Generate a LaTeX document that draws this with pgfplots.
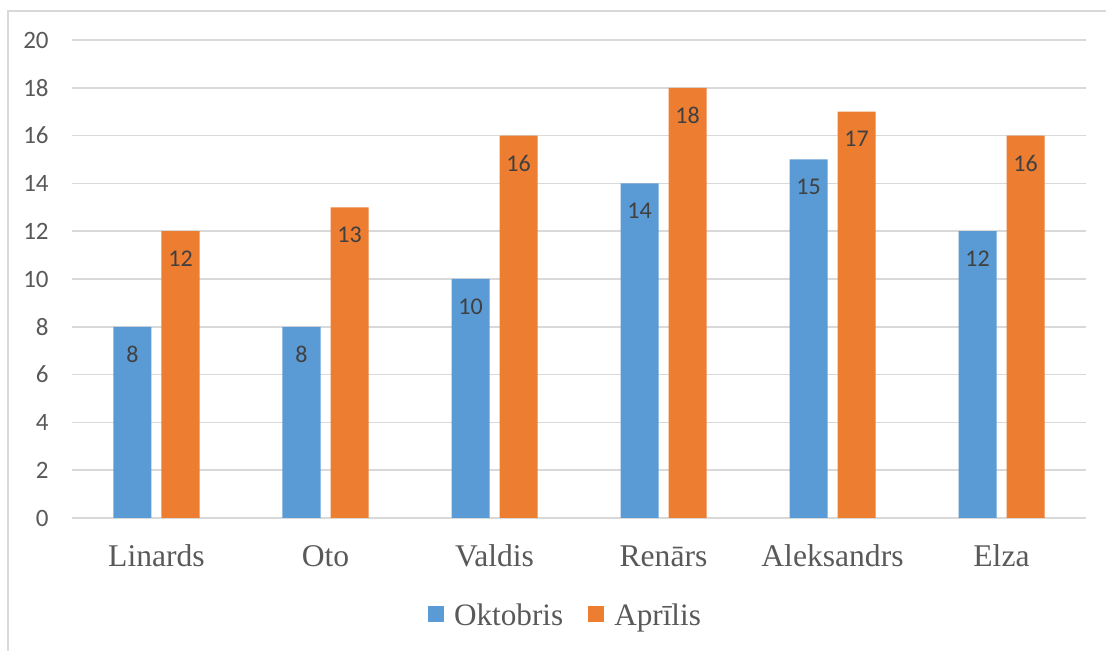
\documentclass[border=0pt]{standalone}
\usepackage{pgfplots}
\pgfplotsset{compat=1.18}
\usepackage{fontspec}
\setmainfont{Liberation Serif}
\newfontfamily\calibri{Carlito}
\definecolor{oblue}{HTML}{5B9BD5}
\definecolor{oorange}{HTML}{ED7D31}
\definecolor{txtgray}{HTML}{595959}
\definecolor{lblgray}{HTML}{404040}
\definecolor{gridgray}{HTML}{D9D9D9}
\begin{document}
\begin{tikzpicture}
\useasboundingbox (-36pt,-66.5pt) rectangle (517pt,259pt);
\draw[gridgray, line width=0.6pt] (-32pt,-70pt) -- (-32pt,253.5pt) -- (520pt,253.5pt);
\begin{axis}[
  at={(0pt,0pt)}, anchor=south west,
  scale only axis, width=507pt, height=239pt,
  xmin=-0.5, xmax=5.5, ymin=0, ymax=20,
  ybar, bar width=19pt,
  xtick={0,1,2,3,4,5},
  xticklabels={Linards,Oto,Valdis,Renārs,Aleksandrs,Elza},
  ytick={0,2,...,20},
  major tick length=0pt,
  axis line style={draw=none},
  ymajorgrids, grid style={gridgray, line width=0.75pt},
  /pgf/number format/assume math mode=true,
  yticklabel style={font=\calibri\fontsize{12.5}{14}\selectfont, text=txtgray, anchor=east, inner sep=0pt, xshift=-11.5pt},
  xticklabel style={font=\fontsize{15.8}{18}\selectfont, text=txtgray, anchor=base, inner sep=0pt, yshift=-24.5pt},
  nodes near coords,
  every node near coord/.append style={font=\calibri\fontsize{12}{14}\selectfont, text=lblgray, anchor=center, yshift=-13.75pt},
  legend columns=2,
  legend style={at={(rel axis cs:0.4877,-0.205)}, anchor=center, draw=none, fill=none,
    font=\fontsize{15.6}{18}\selectfont, text=txtgray,
    /tikz/every odd column/.append style={column sep=3pt},
    /tikz/every even column/.append style={column sep=10.5pt}},
]
\addplot[fill=oblue, draw=none, bar shift=-12pt,
  legend image code/.code={\fill[oblue] (0pt,-3pt) rectangle (8pt,5pt);}]
  coordinates {(0,8) (1,8) (2,10) (3,14) (4,15) (5,12)};
\addplot[fill=oorange, draw=none, bar shift=12pt,
  legend image code/.code={\fill[oorange] (0pt,-3pt) rectangle (8pt,5pt);}]
  coordinates {(0,12) (1,13) (2,16) (3,18) (4,17) (5,16)};
\legend{Oktobris,Aprīlis}
\end{axis}
\end{tikzpicture}
\end{document}
